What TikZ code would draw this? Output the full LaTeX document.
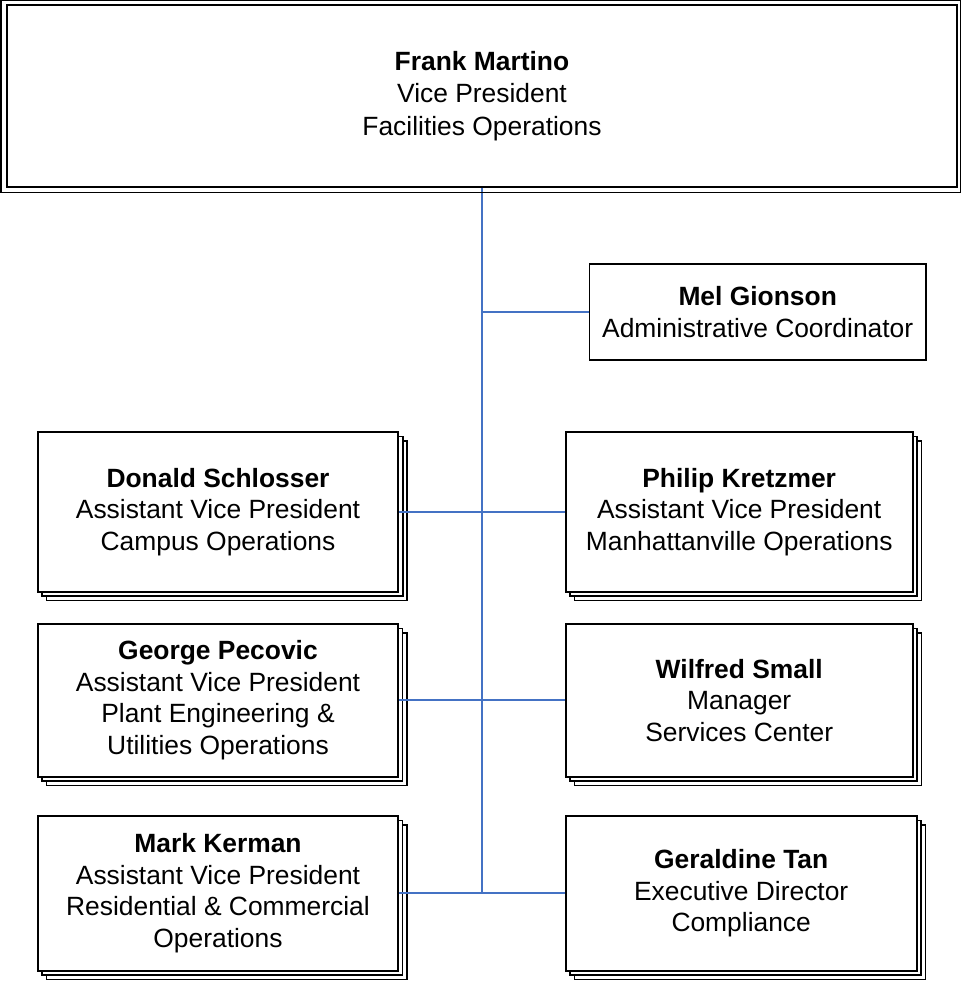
\documentclass[tikz,border=0pt]{standalone}
\usepackage{fontspec}
\setmainfont{Liberation Sans}
\usetikzlibrary{shadows}
\definecolor{linkblue}{RGB}{68,114,196}
\begin{document}
\begin{tikzpicture}[x=0.75pt,y=-0.75pt,
  font=\fontsize{19.8pt}{23.6pt}\selectfont,
  box/.style={draw=black, fill=white, line width=1.4pt, inner sep=0pt, align=center},
  stackbox/.style={box,
    copy shadow={shadow xshift=6.6pt, shadow yshift=-6.6pt, line width=1.2pt},
    copy shadow={shadow xshift=3.3pt, shadow yshift=-3.3pt, line width=1.2pt}},
  conn/.style={draw=linkblue, line width=1.5pt}]
\useasboundingbox (0,0) rectangle (961,982);
\fill[white] (0,0) rectangle (961,982);

% top box
\node[box, minimum width=712.5pt, minimum height=136.5pt,
  font=\fontsize{19.8pt}{24.2pt}\selectfont] (vp) at (482,96)
  {\textbf{Frank Martino}\\ Vice President\\Facilities Operations};

\node[box, line width=1.3pt, minimum width=252.5pt, minimum height=72pt] (mel) at (757.7,312)
  {\textbf{Mel Gionson}\\Administrative Coordinator};

\node[stackbox, minimum width=270.6pt, minimum height=119.8pt] (donald) at (218,511.8)
  {\textbf{Donald Schlosser}\\Assistant Vice President\\Campus Operations};
\node[stackbox, minimum width=260.2pt, minimum height=119.8pt] (philip) at (739.2,511.8)
  {\textbf{Philip Kretzmer}\\Assistant Vice President\\Manhattanville Operations};

\node[stackbox, minimum width=270.4pt, minimum height=114.5pt] (george) at (218,700.3)
  {\textbf{George Pecovic}\\Assistant Vice President\\Plant Engineering \&\\Utilities Operations};
\node[stackbox, minimum width=260.2pt, minimum height=114.5pt] (wilfred) at (739.2,700.3)
  {\textbf{Wilfred Small}\\Manager\\Services Center};

\node[stackbox, minimum width=270.4pt, minimum height=116pt] (mark) at (218,893.3)
  {\textbf{Mark Kerman}\\Assistant Vice President\\Residential \& Commercial\\Operations};
\node[stackbox, minimum width=263.2pt, minimum height=116pt] (geraldine) at (741.2,893.3)
  {\textbf{Geraldine Tan}\\Executive Director\\Compliance};

% connectors
\draw[conn] (vp.south) -- (vp.south |- mark.east);
\draw[conn] (vp.south |- mel.west) -- (mel.west);
\draw[conn] (donald.east) -- (philip.west);
\draw[conn] (george.east) -- (wilfred.west);
\draw[conn] (mark.east) -- (geraldine.west);

% outer frame of the top box
\draw[line width=1.3pt] ([xshift=-3.6pt,yshift=2.7pt]vp.north west) rectangle ([xshift=2.0pt,yshift=-3.4pt]vp.south east);
\end{tikzpicture}
\end{document}
